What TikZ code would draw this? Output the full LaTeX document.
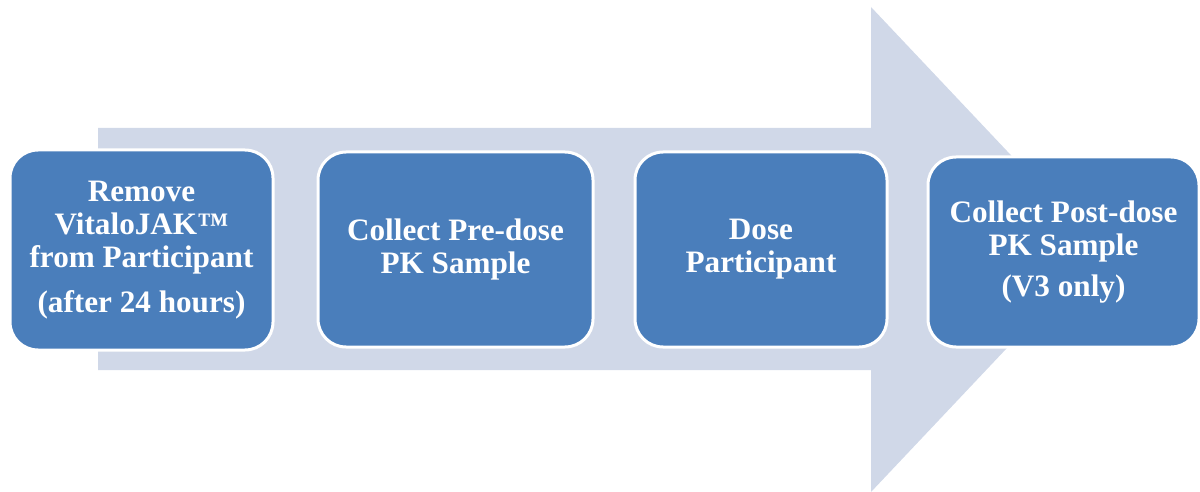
\documentclass[tikz,border=0pt]{standalone}
\usepackage{fontspec}
\setmainfont{Liberation Serif}
\definecolor{shaftblue}{RGB}{208,216,232}
\definecolor{boxblue}{RGB}{74,126,187}
\tikzset{
  stepbox/.style={draw=white, line width=1.5pt, fill=boxblue, rounded corners=14pt,
    text=white, align=center, inner sep=2pt,
    font=\bfseries\fontsize{15.6pt}{16.6pt}\selectfont},
  bigarrow/.style={fill=shaftblue, draw=none}
}
\begin{document}
\begin{tikzpicture}[x=0.5pt,y=-0.5pt]
  \useasboundingbox (0,0) rectangle (1200,492);
  % background process arrow
  \fill[bigarrow] (98,128) -- (871,128) -- (871,7) -- (1100,249.5) -- (871,492)
    -- (871,370) -- (98,370) -- cycle;
  % process steps
  \node[stepbox, minimum width=131.5pt, minimum height=100pt] (s1) at (141.5,250)
    {Remove\\VitaloJAK™\\from Participant\\[6pt](after 24 hours)};
  \node[stepbox, minimum width=137.5pt, minimum height=97.5pt] (s2) at (455.5,249.5)
    {Collect Pre-dose\\PK Sample};
  \node[stepbox, minimum width=126pt, minimum height=97.5pt] (s3) at (761,249.5)
    {Dose\\Participant};
  \node[stepbox, minimum width=135.5pt, minimum height=95pt] (s4) at (1063.5,252)
    {Collect Post-dose\\PK Sample\\[3.5pt](V3 only)};
\end{tikzpicture}
\end{document}
